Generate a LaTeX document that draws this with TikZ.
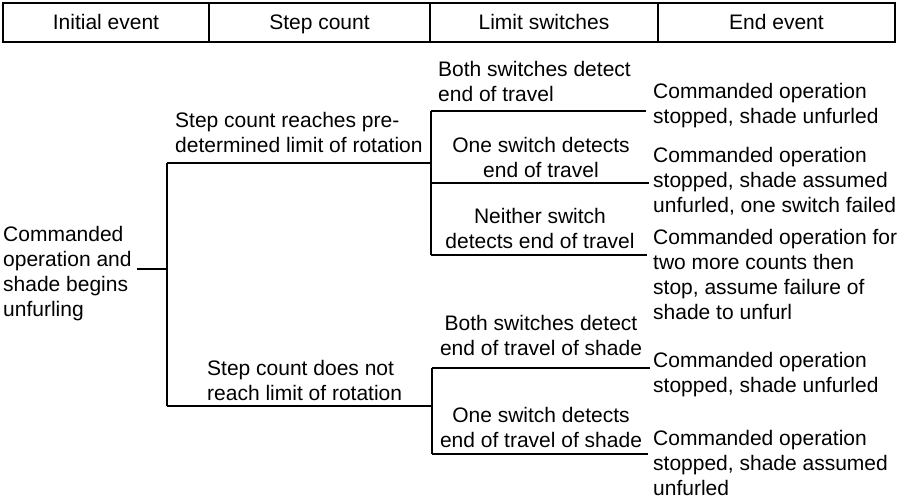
\documentclass[tikz,border=0pt]{standalone}
\usepackage{fontspec}
\setmainfont{Liberation Sans}
\begin{document}
\begin{tikzpicture}[x=1pt,y=-1pt,
  every node/.style={font=\fontsize{21}{25}\selectfont, inner sep=0pt},
  hdr/.style={draw, line width=1.1pt, minimum height=39pt, text height=15pt, text depth=0pt},
  lbl/.style={anchor=north west, align=left},
  clbl/.style={anchor=north, align=center},
  ln/.style={line width=1.1pt}]
\useasboundingbox (0,0) rectangle (906,500);

% column headers
\node[hdr, minimum width=206pt] (h1) at (106,22.5) {Initial event};
\node[hdr, minimum width=221pt] (h2) at (319.5,22.5) {Step count};
\node[hdr, minimum width=228pt] (h3) at (544,22.5) {Limit switches};
\node[hdr, minimum width=237pt] (h4) at (776.5,22.5) {End event};

% initial event
\node[lbl] (init) at (3,225.8) {Commanded\\operation and\\shade begins\\unfurling};

% step count outcomes
\node[lbl] (sc1) at (175,111.8) {Step count reaches pre-\\determined limit of rotation};
\node[lbl] (sc2) at (207,359.8) {Step count does not\\reach limit of rotation};

% limit switch outcomes
\node[lbl]  (ls1) at (438,60.8) {Both switches detect\\end of travel};
\node[clbl] (ls2) at (541,136.8) {One switch detects\\end of travel};
\node[clbl] (ls3) at (540,207.8) {Neither switch\\detects end of travel};
\node[clbl] (ls4) at (541,314.8) {Both switches detect\\end of travel of shade};
\node[clbl] (ls5) at (541,406.8) {One switch detects\\end of travel of shade};

% end events
\node[lbl] (e1) at (653,82.8) {Commanded operation\\stopped, shade unfurled};
\node[lbl] (e2) at (653,146.8) {Commanded operation\\stopped, shade assumed\\unfurled, one switch failed};
\node[lbl] (e3) at (653,228.8) {Commanded operation for\\two more counts then\\stop, assume failure of\\shade to unfurl};
\node[lbl] (e4) at (653,351.8) {Commanded operation\\stopped, shade unfurled};
\node[lbl] (e5) at (653,429.8) {Commanded operation\\stopped, shade assumed\\unfurled};

% branch points
\coordinate (r0) at (137,269);
\coordinate (r1) at (167,269);
\coordinate (s1) at (167,163);
\coordinate (s2) at (167,406);
\coordinate (t1) at (431,163);
\coordinate (t2) at (432,406);
\coordinate (u1) at (431,111);
\coordinate (u2) at (431,183);
\coordinate (u3) at (431,255);
\coordinate (v1) at (432,368);
\coordinate (v2) at (432,454);
\coordinate (w1) at (646,111);
\coordinate (w2) at (649,183);
\coordinate (w3) at (647,255);
\coordinate (w4) at (650,368);
\coordinate (w5) at (648,454);

% tree connectors
\draw[ln] (r0) -- (r1);
\draw[ln] (s1) -- (s2);
\draw[ln] (s1) -- (t1);
\draw[ln] (s2) -- (t2);
\draw[ln] (u1) -- (u3);
\draw[ln] (v1) -- (v2);
\draw[ln] (u1) -- (w1);
\draw[ln] (u2) -- (w2);
\draw[ln] (u3) -- (w3);
\draw[ln] (v1) -- (w4);
\draw[ln] (v2) -- (w5);
\end{tikzpicture}
\end{document}
